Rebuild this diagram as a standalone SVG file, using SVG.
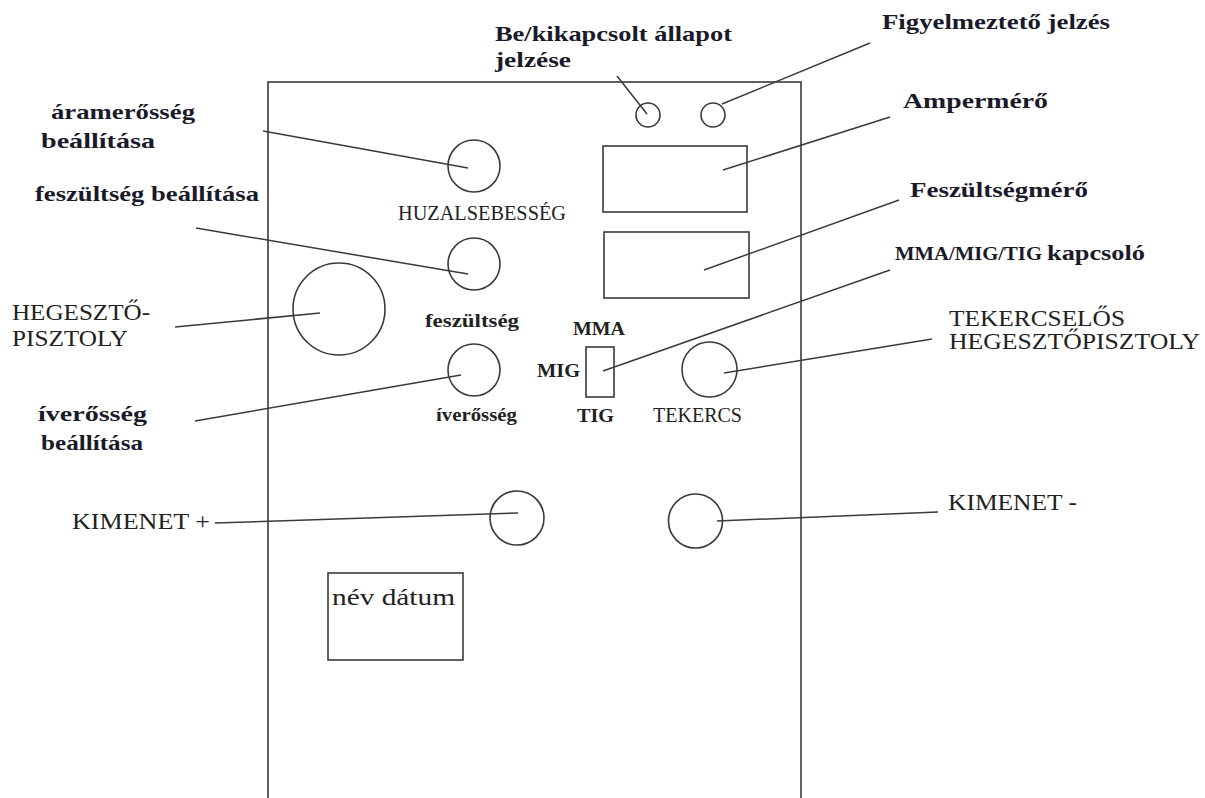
<svg xmlns="http://www.w3.org/2000/svg" width="1205" height="798" viewBox="0 0 1205 798">
<style>
.sh{fill:none;stroke:#3a3a3a;stroke-width:1.6}
.cn{fill:none;stroke:#3a3a3a;stroke-width:1.5}
text{font-family:'Liberation Serif','Times New Roman',Times,serif}
.b{font-weight:bold;fill:#1a1a2a;font-size:22px}
.r{fill:#222;font-size:23px}
.sb{font-weight:bold;fill:#222;font-size:19px}
.sr{fill:#222;font-size:20px}
</style>
<rect width="1205" height="798" fill="#fff"/>
<g id="panel"><rect class="sh" x="268" y="82" width="533" height="740" stroke-width="2"/></g>
<g id="led-power"><circle class="sh" cx="648" cy="115" r="12"/></g>
<g id="led-warning"><circle class="sh" cx="713" cy="115" r="12"/></g>
<g id="ammeter"><rect class="sh" x="603" y="146" width="144" height="66"/></g>
<g id="voltmeter"><rect class="sh" x="604" y="232" width="145" height="66"/></g>
<g id="knob-wire"><circle class="sh" cx="474" cy="166" r="26"/><text class="sr" x="398" y="220" textLength="168" lengthAdjust="spacingAndGlyphs">HUZALSEBESSÉG</text></g>
<g id="knob-voltage"><circle class="sh" cx="474" cy="264" r="26"/><text class="sb" x="425" y="327" textLength="94" lengthAdjust="spacingAndGlyphs">feszültség</text></g>
<g id="torch"><circle class="sh" cx="339" cy="309" r="46"/></g>
<g id="knob-arc"><circle class="sh" cx="474" cy="370" r="26"/><text class="sb" x="436" y="421" textLength="81" lengthAdjust="spacingAndGlyphs">íverősség</text></g>
<g id="switch"><rect class="sh" x="586" y="347" width="28" height="50"/>
<text class="sb" x="573" y="335" textLength="52" lengthAdjust="spacingAndGlyphs">MMA</text>
<text class="sb" x="537" y="377" textLength="43" lengthAdjust="spacingAndGlyphs">MIG</text>
<text class="sb" x="577" y="422" textLength="37" lengthAdjust="spacingAndGlyphs">TIG</text></g>
<g id="spool"><circle class="sh" cx="709.5" cy="369.5" r="27.5"/><text class="sr" x="653" y="422" textLength="89" lengthAdjust="spacingAndGlyphs">TEKERCS</text></g>
<g id="out-plus"><circle class="sh" cx="517" cy="518" r="27"/></g>
<g id="out-minus"><circle class="sh" cx="695.5" cy="521" r="27"/></g>
<g id="name-box"><rect class="sh" x="328" y="573" width="135" height="87"/><text class="r" x="332" y="605" font-size="27" textLength="123" lengthAdjust="spacingAndGlyphs">név dátum</text></g>

<g id="connectors">
<line class="cn" x1="617" y1="76" x2="647" y2="114"/>
<line class="cn" x1="870" y1="43" x2="722" y2="104"/>
<line class="cn" x1="890" y1="117" x2="723" y2="170"/>
<line class="cn" x1="899" y1="200" x2="704" y2="270"/>
<line class="cn" x1="890" y1="270" x2="603" y2="371"/>
<line class="cn" x1="932" y1="339" x2="724" y2="373"/>
<line class="cn" x1="263" y1="131" x2="468" y2="168"/>
<line class="cn" x1="196" y1="228" x2="468" y2="274"/>
<line class="cn" x1="175" y1="327" x2="320" y2="313"/>
<line class="cn" x1="195" y1="421" x2="461" y2="375"/>
<line class="cn" x1="215" y1="523" x2="518" y2="513"/>
<line class="cn" x1="938" y1="512" x2="717" y2="521"/>
</g>

<g id="labels">
<text class="b" x="495" y="41" textLength="237" lengthAdjust="spacingAndGlyphs">Be/kikapcsolt állapot</text>
<text class="b" x="495" y="67" textLength="76" lengthAdjust="spacingAndGlyphs">jelzése</text>
<text class="b" x="882" y="29" textLength="228" lengthAdjust="spacingAndGlyphs">Figyelmeztető jelzés</text>
<text class="b" x="903" y="108" textLength="145" lengthAdjust="spacingAndGlyphs">Ampermérő</text>
<text class="b" x="910" y="197" textLength="178" lengthAdjust="spacingAndGlyphs">Feszültségmérő</text>
<text class="b" x="895" y="260"><tspan font-size="18" textLength="147" lengthAdjust="spacingAndGlyphs">MMA/MIG/TIG</tspan><tspan x="1047" textLength="98" lengthAdjust="spacingAndGlyphs">kapcsoló</tspan></text>
<text class="b" x="51" y="119" textLength="144" lengthAdjust="spacingAndGlyphs">áramerősség</text>
<text class="b" x="41" y="148" textLength="114" lengthAdjust="spacingAndGlyphs">beállítása</text>
<text class="b" x="35" y="201" textLength="224" lengthAdjust="spacingAndGlyphs">feszültség beállítása</text>
<text class="r" x="12" y="320" textLength="138" lengthAdjust="spacingAndGlyphs">HEGESZTŐ-</text>
<text class="r" x="12" y="346" textLength="116" lengthAdjust="spacingAndGlyphs">PISZTOLY</text>
<text class="b" x="38" y="421" textLength="109" lengthAdjust="spacingAndGlyphs">íverősség</text>
<text class="b" x="41" y="450" textLength="102" lengthAdjust="spacingAndGlyphs">beállítása</text>
<text class="r" x="72" y="529" textLength="138" lengthAdjust="spacingAndGlyphs">KIMENET +</text>
<text class="r" x="948" y="510" textLength="129" lengthAdjust="spacingAndGlyphs">KIMENET -</text>
<text class="r" x="949" y="326" font-size="20" textLength="176" lengthAdjust="spacingAndGlyphs">TEKERCSELŐS</text>
<text class="r" x="949" y="349" font-size="20" textLength="251" lengthAdjust="spacingAndGlyphs">HEGESZTŐPISZTOLY</text>
</g>
</svg>
